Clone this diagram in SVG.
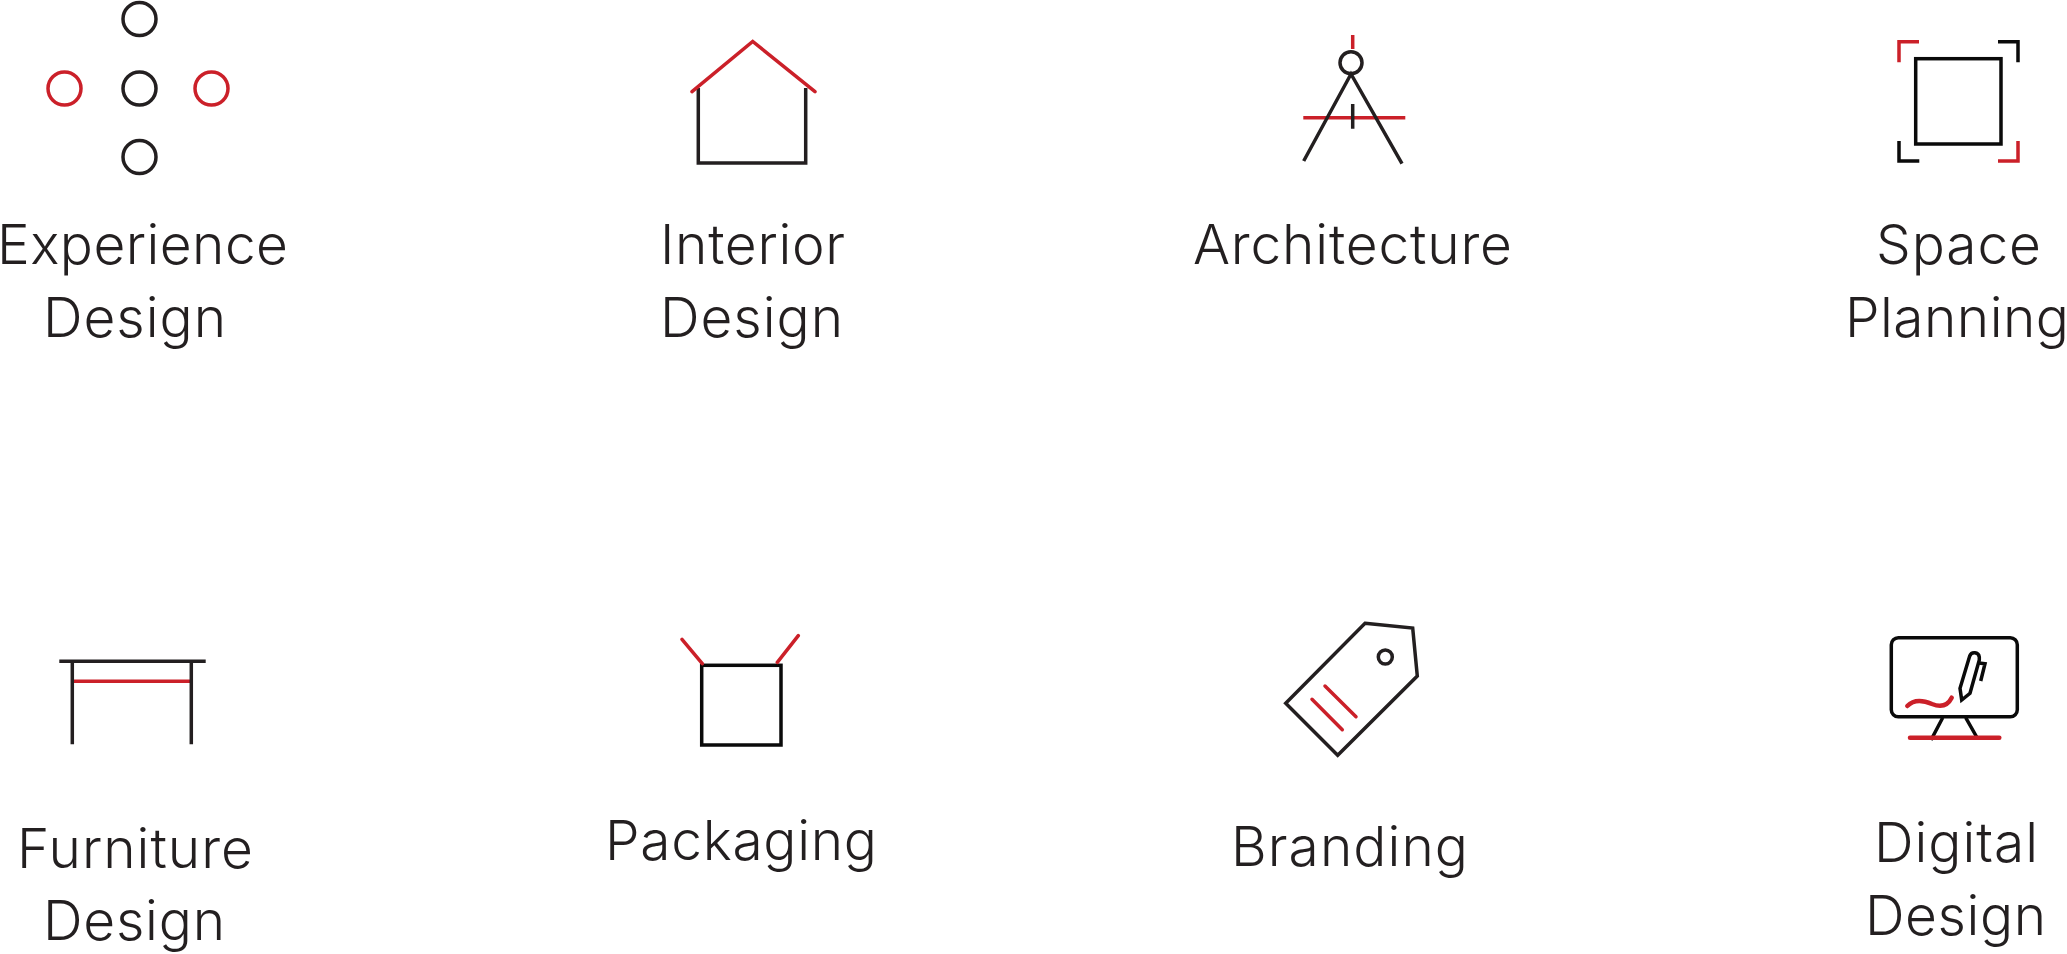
<svg xmlns="http://www.w3.org/2000/svg" width="2067" height="954" viewBox="0 0 2067 954">
<style>
.k,.b,.r{fill:none;stroke-width:3.5;stroke-linejoin:miter}
.k{stroke:#231f20}.b{stroke:#0a0a0a}.r{stroke:#cb2029}
.o{stroke-linecap:round}
text{font-family:"Inter","Liberation Sans",sans-serif;font-weight:300;font-size:55px;fill:#231f20}
</style>
<rect width="2067" height="954" fill="#fff"/>
<g id="experience-design">
<circle class="k" cx="139.5" cy="19" r="16.5"/><circle class="k" cx="139.5" cy="88.5" r="16.5"/><circle class="k" cx="139.5" cy="157" r="16.5"/>
<circle class="r" cx="64.5" cy="88.5" r="16.5"/><circle class="r" cx="211.5" cy="88.5" r="16.5"/>
<text x="-3" y="264" textLength="291">Experience</text><text x="43" y="337" textLength="183">Design</text>
</g>
<g id="interior-design">
<path class="k" d="M698.3 88V163H805.7V88"/><path class="r o" d="M692 91.7L752.7 41.5L815 91.7" stroke-linejoin="round"/>
<text x="660" y="264" textLength="185">Interior</text><text x="660" y="337" textLength="183">Design</text>
</g>
<g id="architecture">
<path class="r" d="M1352.7 35V49M1303.3 117.7H1405.3"/>
<circle class="k" cx="1351" cy="62.7" r="11"/>
<path class="k" d="M1303.7 161L1351 74L1402 163.7M1352.7 104V128.7"/>
<text x="1193" y="264" textLength="319">Architecture</text>
</g>
<g id="space-planning">
<rect class="b" x="1915.7" y="58.7" width="85.3" height="85.3"/>
<path class="r" d="M1899 62.3V41.7H1919M1998 161H2018V141"/>
<path class="b" d="M1998 41.7H2018V62.3M1899 141V161H1919.3"/>
<text x="1876" y="264" textLength="165">Space</text><text x="1845" y="337" textLength="224">Planning</text>
</g>
<g id="furniture-design">
<path class="r" d="M72 681.3H191"/>
<path class="k" d="M59.3 661.3H205.7M72.3 661.3V744.3M191.3 661.3V744.3"/>
<text x="17" y="868" textLength="236">Furniture</text><text x="43" y="940" textLength="182">Design</text>
</g>
<g id="packaging">
<rect class="b" x="701.7" y="665.3" width="79.3" height="79.7"/>
<path class="r o" d="M682 639.3L702.3 663.7M798.3 635.7L777.3 662.3"/>
<text x="605" y="860" textLength="272">Packaging</text>
</g>
<g id="branding">
<path class="k" d="M1365 623.3L1412.7 628L1417.3 676L1337.7 755.3L1285.7 703.3Z"/>
<circle class="k" cx="1385.3" cy="657" r="7"/>
<path class="r o" d="M1312 699.3L1342.3 729.7M1325 686L1356 716.7"/>
<text x="1231" y="866" textLength="237">Branding</text>
</g>
<g id="digital-design">
<rect class="b" x="1891.3" y="637.7" width="126" height="79" rx="7"/>
<path class="b" d="M1942.7 717.7L1931 740M1965.7 717.7L1976.7 737"/>
<path class="r o" style="stroke-width:4.5" d="M1910 737.7H1999.3"/>
<path class="r o" style="stroke-width:4.5" d="M1907.3 706C1915 698 1925 701 1932 704C1942 708 1948 705 1951.7 697.7"/>
<path class="b" d="M1969.7 656L1960 688.3L1961.7 700L1970 693.3L1979.3 660V657A5 5 0 0 0 1969.7 656Z"/>
<path class="b" d="M1979 663L1985 663.7L1980.7 681"/>
<text x="1874" y="862" textLength="164">Digital</text><text x="1865" y="935" textLength="181">Design</text>
</g>
</svg>
